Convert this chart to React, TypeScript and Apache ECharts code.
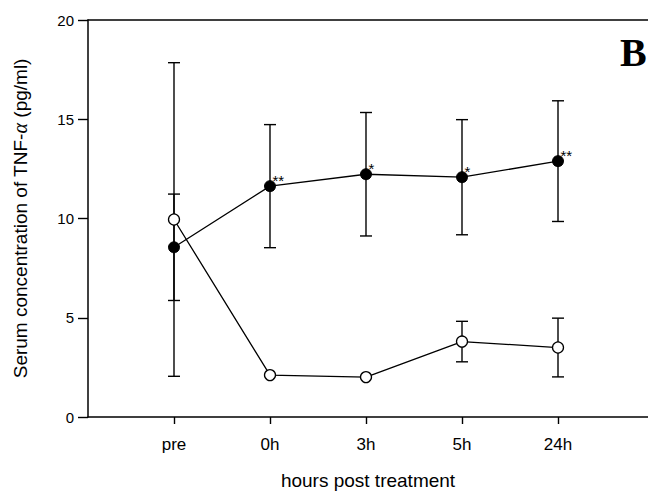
import React, { useEffect, useRef } from "react";
import * as echarts from "echarts";

const categories = ["pre", "0h", "3h", "5h", "24h"];
const treatedMean = [8.55, 11.63, 12.23, 12.08, 12.89];
const treatedErr = [2.68, 3.1, 3.11, 2.9, 3.04];
const treatedStars = ["", "**", "*", "*", "**"];
const controlMean = [9.95, 2.11, 2.01, 3.8, 3.5];
const controlErr = [7.9, 0, 0, 1.02, 1.48];
const yTicks = [0, 5, 10, 15, 20];

const FONT = "Liberation Sans, Arial, sans-serif";

export default function App() {
  const ref = useRef<HTMLDivElement>(null);
  useEffect(() => {
    document.body.style.margin = "0";
    const chart = echarts.init(ref.current!, null, { renderer: "svg" });
    const xs = categories.map((_, i) => i + 1);
    const errData = (means: number[], errs: number[]) =>
      means
        .map((m, i) => [xs[i], m - errs[i], m + errs[i]])
        .filter((_, i) => errs[i] > 0);
    const errRender = (params: any, api: any) => {
      const x = api.value(0);
      const lo = api.coord([x, api.value(1)]);
      const hi = api.coord([x, api.value(2)]);
      const w = 6;
      const st = { stroke: "#000", lineWidth: 1.4 };
      return {
        type: "group",
        children: [
          { type: "line", shape: { x1: lo[0], y1: lo[1], x2: hi[0], y2: hi[1] }, style: st },
          { type: "line", shape: { x1: lo[0] - w, y1: lo[1], x2: lo[0] + w, y2: lo[1] }, style: st },
          { type: "line", shape: { x1: hi[0] - w, y1: hi[1], x2: hi[0] + w, y2: hi[1] }, style: st },
        ],
      };
    };
    chart.setOption({
      animation: false,
      backgroundColor: "#fff",
      grid: { left: 88, right: 0, top: 20, bottom: 72 },
      xAxis: [
        {
          type: "value",
          min: 0.1042,
          max: 5.9375,
          name: "hours post treatment",
          nameLocation: "middle",
          nameGap: 54,
          nameTextStyle: { fontFamily: FONT, fontSize: 19, color: "#000" },
          axisLine: { show: true, onZero: false, lineStyle: { color: "#000", width: 1.5 } },
          axisTick: { show: true, customValues: xs, length: 7, lineStyle: { color: "#000", width: 1.4 } },
          axisLabel: {
            customValues: xs,
            formatter: (v: number) => categories[Math.round(v) - 1] ?? "",
            margin: 19,
            fontFamily: FONT,
            fontSize: 17,
            color: "#000",
          },
          splitLine: { show: false },
        },
        {
          type: "value",
          position: "top",
          min: 0,
          max: 1,
          axisLine: { show: true, onZero: false, lineStyle: { color: "#000", width: 1.5 } },
          axisTick: { show: false },
          axisLabel: { show: false },
          splitLine: { show: false },
        },
      ],
      yAxis: {
        type: "value",
        min: 0,
        max: 20,
        interval: 5,
        name: "{a|Serum concentration of TNF-}{b|α}{a| (pg/ml)}",
        nameLocation: "middle",
        nameGap: 58,
        nameTextStyle: {
          color: "#000",
          rich: {
            a: { fontFamily: FONT, fontSize: 19, color: "#000" },
            b: { fontFamily: "Liberation Serif, serif", fontStyle: "italic", fontSize: 20, color: "#000" },
          },
        },
        axisLine: { show: true, lineStyle: { color: "#000", width: 1.5 } },
        axisTick: { show: true, length: 10, lineStyle: { color: "#000", width: 1.4 } },
        axisLabel: {
          margin: 14,
          fontFamily: FONT,
          fontSize: 15,
          color: "#000",
          formatter: (v: number) => (yTicks.includes(v) ? String(v) : ""),
        },
        splitLine: { show: false },
      },
      series: [
        {
          type: "custom",
          renderItem: errRender,
          data: errData(treatedMean, treatedErr),
          z: 1,
          silent: true,
        },
        {
          type: "custom",
          renderItem: errRender,
          data: errData(controlMean, controlErr),
          z: 1,
          silent: true,
        },
        {
          type: "line",
          data: treatedMean.map((m, i) => [xs[i], m]),
          symbol: "circle",
          symbolSize: 11,
          lineStyle: { color: "#000", width: 1.3 },
          itemStyle: { color: "#000", borderColor: "#000", borderWidth: 1 },
          label: {
            show: true,
            position: "right",
            offset: [-8.5, -6],
            formatter: (p: any) => treatedStars[p.dataIndex],
            fontFamily: FONT,
            fontSize: 15,
            color: "#000",
          },
          z: 3,
        },
        {
          type: "line",
          data: controlMean.map((m, i) => [xs[i], m]),
          symbol: "circle",
          symbolSize: 11,
          lineStyle: { color: "#000", width: 1.3 },
          itemStyle: { color: "#fff", borderColor: "#000", borderWidth: 1.3 },
          z: 3,
        },
      ],
      graphic: [
        {
          type: "text",
          left: 620,
          top: 32,
          style: {
            text: "B",
            fontFamily: "Liberation Serif, Times New Roman, serif",
            fontWeight: "bold",
            fontSize: 40,
            fill: "#000",
          },
        },
      ],
    });
    return () => chart.dispose();
  }, []);
  return <div ref={ref} style={{ width: 648, height: 495 }} />;
}
